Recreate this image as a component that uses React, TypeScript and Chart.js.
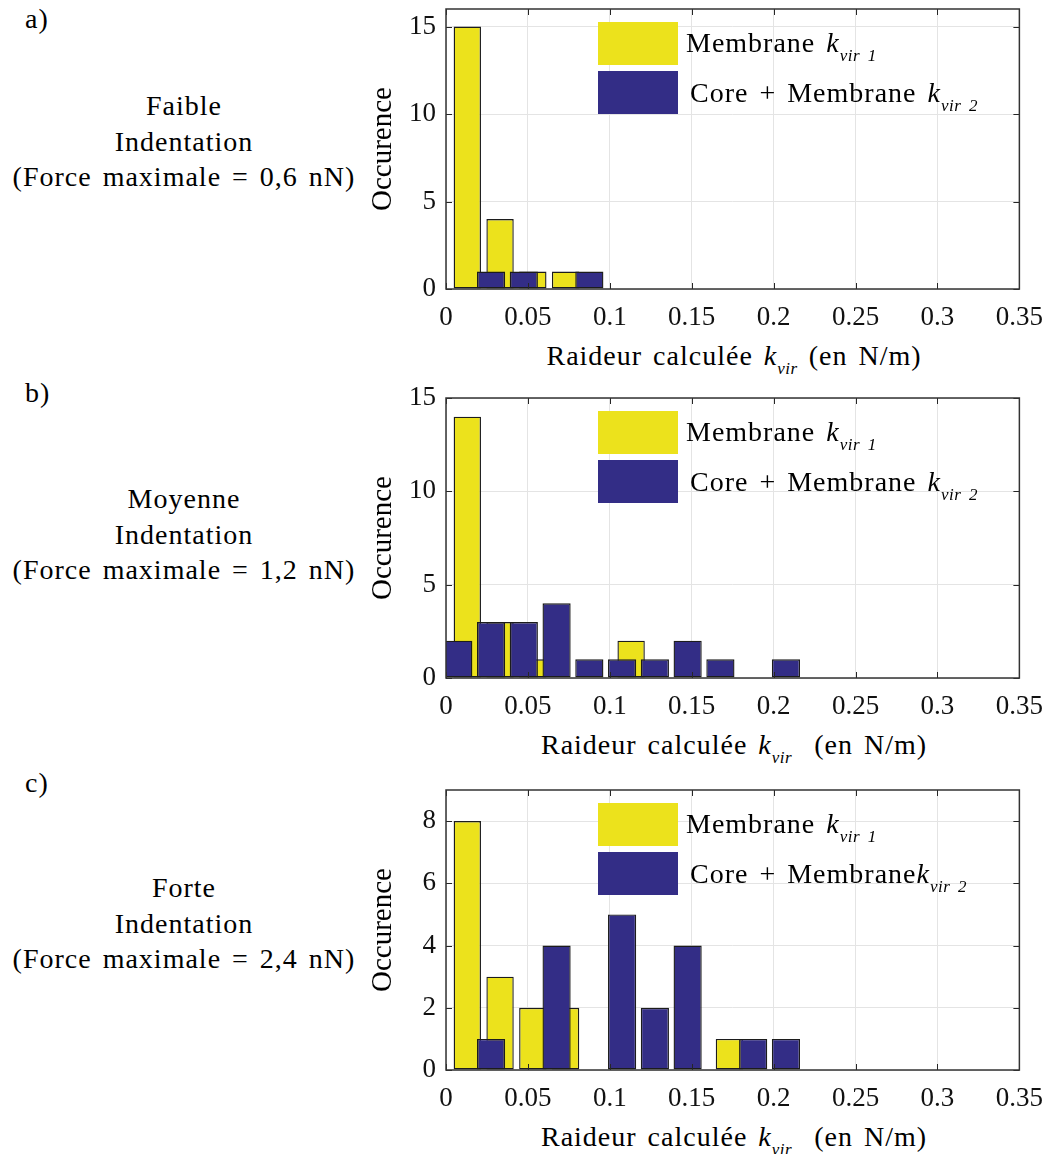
import React, { useEffect, useRef } from 'react';
import { Chart, registerables } from 'chart.js';

Chart.register(...registerables);

// ---------- data ----------
const membraneBinCenters = [0.013, 0.033, 0.053, 0.073, 0.093, 0.113, 0.133, 0.153, 0.173, 0.193, 0.213];
const coreBinCenters = [0.0075, 0.0275, 0.0475, 0.0675, 0.0875, 0.1075, 0.1275, 0.1475, 0.1675, 0.1875, 0.2075];

const membraneFaible = [15, 4, 1, 1, 0, 0, 0, 0, 0, 0, 0];
const coreFaible = [0, 1, 1, 0, 1, 0, 0, 0, 0, 0, 0];

const membraneMoyenne = [14, 3, 1, 0, 0, 2, 0, 0, 0, 0, 0];
const coreMoyenne = [2, 3, 3, 4, 1, 1, 1, 2, 1, 0, 1];

const membraneForte = [8, 3, 2, 2, 0, 0, 0, 0, 1, 0, 0];
const coreForte = [0, 1, 0, 4, 0, 5, 2, 4, 0, 1, 1];

const xTickLabels = ['0', '0.05', '0.1', '0.15', '0.2', '0.25', '0.3', '0.35'];
const yMaxes = [16, 15, 9];
const yTickSteps = [5, 5, 1];
const yLabelEvery = [5, 5, 2];

const panelLetters = ['a)', 'b)', 'c)'];
const panelLevels = ['Faible', 'Moyenne', 'Forte'];
const panelForces = ['0,6', '1,2', '2,4'];
const membraneSeries = [membraneFaible, membraneMoyenne, membraneForte];
const coreSeries = [coreFaible, coreMoyenne, coreForte];

const YELLOW = '#ECE21C';
const BLUE = '#332D86';
const EDGE = '#1c1c1c';
const FONT = '"Liberation Serif", "Times New Roman", serif';

// ---------- layout ----------
const PLOT_TOPS = [9, 398, 790];
const PLOT_H = 280;
const CANVAS_LEFT = 360;
const CANVAS_W = 696;
const PAD_TOP = 27;
const X_AXIS_H = 45;
const Y_AXIS_W = 86;
const PAD_RIGHT = 34;
const LETTER_BASELINES = [28, 402, 792];
const GROUP_BASELINES = [115, 508, 897];

const framePlugin = {
  id: 'matlabFrame',
  afterDatasetsDraw(chart: any) {
    const { ctx, chartArea, scales } = chart;
    const { left, right, top, bottom } = chartArea;
    const L = 6;
    ctx.save();
    ctx.strokeStyle = '#262626';
    ctx.lineWidth = 1;
    ctx.beginPath();
    scales.x.ticks.forEach((t: any) => {
      const px = Math.round(scales.x.getPixelForValue(t.value)) + 0.5;
      ctx.moveTo(px, bottom);
      ctx.lineTo(px, bottom - L);
      ctx.moveTo(px, top);
      ctx.lineTo(px, top + L);
    });
    scales.y.ticks.forEach((t: any) => {
      const py = Math.round(scales.y.getPixelForValue(t.value)) + 0.5;
      ctx.moveTo(left, py);
      ctx.lineTo(left + L, py);
      ctx.moveTo(right, py);
      ctx.lineTo(right - L, py);
    });
    ctx.stroke();
    ctx.lineWidth = 1.5;
    ctx.strokeStyle = '#333333';
    ctx.strokeRect(left, top, right - left, bottom - top);
    ctx.restore();
  },
};

function HistPanel({ idx }: { idx: number }) {
  const ref = useRef<HTMLCanvasElement | null>(null);
  useEffect(() => {
    if (!ref.current) return;
    const chart = new Chart(ref.current, {
      type: 'bar',
      data: {
        datasets: [
          {
            label: 'Membrane k_vir 1',
            data: membraneBinCenters.map((x, i) => ({ x, y: membraneSeries[idx][i] })),
            backgroundColor: YELLOW,
            borderColor: EDGE,
            borderWidth: 1.4,
            borderSkipped: false,
            xAxisID: 'x',
            yAxisID: 'y',
            barPercentage: 0.835,
            categoryPercentage: 1,
            grouped: false,
            order: 2,
          } as any,
          {
            label: 'Core + Membrane k_vir 2',
            data: coreBinCenters.map((x, i) => ({ x, y: coreSeries[idx][i] })),
            backgroundColor: BLUE,
            borderColor: EDGE,
            borderWidth: 1.4,
            borderSkipped: false,
            xAxisID: 'x2',
            yAxisID: 'y',
            barPercentage: 0.86,
            categoryPercentage: 1,
            grouped: false,
            order: 1,
          } as any,
        ],
      },
      options: {
        animation: false,
        responsive: false,
        maintainAspectRatio: false,
        layout: { padding: { top: PAD_TOP, right: PAD_RIGHT, left: 0, bottom: 0 } },
        plugins: { legend: { display: false }, tooltip: { enabled: false } },
        scales: {
          x: {
            type: 'linear',
            position: 'bottom',
            offset: false,
            min: 0,
            max: 0.35,
            ticks: {
              stepSize: 0.05,
              autoSkip: false,
              maxRotation: 0,
              padding: 13,
              color: '#111',
              font: { family: FONT, size: 27 },
              callback: (v: any) => {
                const l = xTickLabels.find((s) => Math.abs(parseFloat(s) - Number(v)) < 1e-6);
                return l ?? '';
              },
            },
            grid: { color: '#e4e4e4', lineWidth: 1, drawTicks: false, offset: false },
            border: { display: false },
            afterFit: (s: any) => {
              s.height = X_AXIS_H;
            },
          },
          x2: {
            type: 'linear',
            display: false,
            offset: false,
            min: 0,
            max: 0.35,
            ticks: { stepSize: 0.05 },
            grid: { offset: false },
          },
          y: {
            type: 'linear',
            min: 0,
            max: yMaxes[idx],
            ticks: {
              stepSize: yTickSteps[idx],
              includeBounds: false,
              padding: 10,
              color: '#111',
              font: { family: FONT, size: 27 },
              callback: (v: any) => (Number(v) % yLabelEvery[idx] === 0 ? String(v) : ''),
            },
            grid: { color: '#e4e4e4', lineWidth: 1, drawTicks: false },
            border: { display: false },
            title: {
              display: true,
              text: 'Occurence',
              color: '#000',
              font: { family: FONT, size: 29 },
              padding: { top: 6, bottom: 0 },
            },
            afterFit: (s: any) => {
              s.width = Y_AXIS_W;
            },
          },
        },
      } as any,
      plugins: [framePlugin],
    });
    return () => chart.destroy();
  }, [idx]);
  const canvasH = PAD_TOP + PLOT_H + X_AXIS_H;
  return (
    <canvas
      ref={ref}
      width={CANVAS_W}
      height={canvasH}
      style={{
        position: 'absolute',
        left: CANVAS_LEFT,
        top: PLOT_TOPS[idx] - PAD_TOP,
        width: CANVAS_W,
        height: canvasH,
      }}
    />
  );
}

const TXT: React.CSSProperties = {
  position: 'absolute',
  fontFamily: FONT,
  fontSize: 28,
  lineHeight: '28px',
  whiteSpace: 'nowrap',
  color: '#000',
  letterSpacing: '1px',
  wordSpacing: '3px',
};

function Text({ x, baseline, center, children }: { x: number; baseline: number; center?: boolean; children: any }) {
  return (
    <div style={{ ...TXT, left: x, top: baseline - 23, transform: center ? 'translateX(-50%)' : undefined }}>
      {children}
    </div>
  );
}

const K = () => <span style={{ fontStyle: 'italic' }}>k</span>;
const Sub = ({ children }: { children: any }) => (
  <span style={{ fontSize: 17, fontStyle: 'italic', position: 'relative', top: 9, letterSpacing: '0.5px' }}>
    {children}
  </span>
);

function PanelTexts({ idx }: { idx: number }) {
  const top = PLOT_TOPS[idx];
  const bottom = top + PLOT_H;
  const plotLeft = CANVAS_LEFT + Y_AXIS_W;
  const plotRight = CANVAS_LEFT + CANVAS_W - PAD_RIGHT;
  const gb = GROUP_BASELINES[idx];
  return (
    <>
      <Text x={25} baseline={LETTER_BASELINES[idx]}>{panelLetters[idx]}</Text>
      <Text x={184} baseline={gb} center>{panelLevels[idx]}</Text>
      <Text x={184} baseline={gb + 35.5} center>Indentation</Text>
      <Text x={184} baseline={gb + 71} center>(Force maximale = {panelForces[idx]} nN)</Text>
      {/* legend */}
      <div style={{ position: 'absolute', left: 598, top: top + 13, width: 80, height: 43, background: YELLOW }} />
      <div style={{ position: 'absolute', left: 598, top: top + 62, width: 80, height: 43, background: BLUE }} />
      <Text x={686} baseline={top + 43}>
        Membrane <K />
        <Sub>vir 1</Sub>
      </Text>
      <Text x={690} baseline={top + 93}>
        {idx === 2 ? 'Core + Membrane' : 'Core + Membrane '}
        <K />
        <Sub>vir 2</Sub>
      </Text>
      {/* x axis title */}
      <Text x={(plotLeft + plotRight) / 2} baseline={bottom + 76} center>
        Raideur calculée <K />
        <Sub>vir</Sub>
        {idx === 0 ? ' ' : '\u00a0 '}(en N/m)
      </Text>
    </>
  );
}

export default function App() {
  return (
    <div style={{ position: 'absolute', left: 0, top: 0, width: 1056, height: 1154, background: '#fff', overflow: 'hidden' }}>
      {[0, 1, 2].map((i) => (
        <React.Fragment key={i}>
          <HistPanel idx={i} />
          <PanelTexts idx={i} />
        </React.Fragment>
      ))}
    </div>
  );
}
